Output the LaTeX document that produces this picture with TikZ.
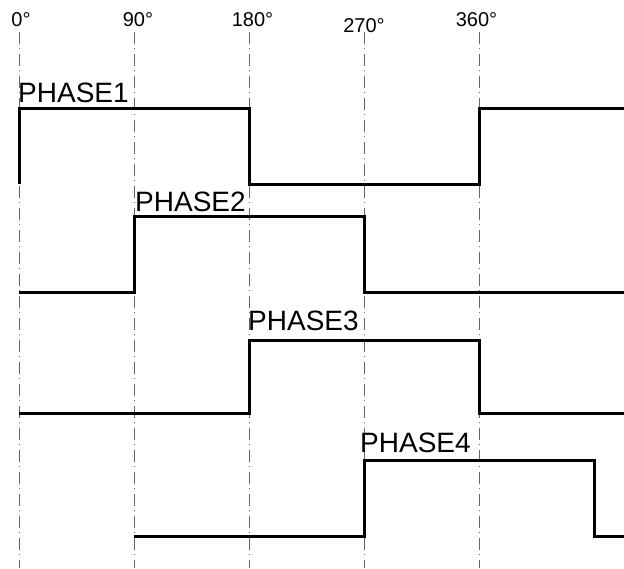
\documentclass[tikz,border=0pt]{standalone}
\usepackage{fontspec}
\setmainfont{Liberation Sans}
\usepackage{tikz}
\usetikzlibrary{positioning}

\tikzset{
  guide/.style={gray!80!black, line width=0.8pt, dash pattern=on 12pt off 4pt on 1pt off 5pt},
  wave/.style={black, line width=3pt},
  anglelabel/.style={inner sep=0pt, anchor=base, font=\fontsize{20}{20}\selectfont},
  phaselabel/.style={inner sep=0pt, anchor=south west, font=\fontsize{28}{28}\selectfont}
}

\begin{document}
\begin{tikzpicture}[x=1pt,y=-1pt]
    \useasboundingbox (0,0) rectangle (624,568);

    % Guides
    \foreach \x in {19,134,249,364,479}
        \draw[guide] (\x,32) -- (\x,568);

    % Angles
    \node[anglelabel] (a0)   at (21,26)    {0°};
    \node[anglelabel] (a90)  at (138,26)   {90°};
    \node[anglelabel] (a180) at (252.5,26) {180°};
    \node[anglelabel] (a270) at (364,32)   {270°};
    \node[anglelabel] (a360) at (476.5,26) {360°};

    % Phase 1
    \draw[wave] (19,184) -- (19,108) -- (249,108) -- (249,184) -- (479,184) -- (479,108) -- (624,108);
    \node[phaselabel] (ph1) at (18,103) {PHASE1};

    % Phase 2
    \draw[wave] (19,292) -- (134,292) -- (134,216) -- (364,216) -- (364,292) -- (624,292);
    \node[phaselabel] (ph2) at (135,212) {PHASE2};

    % Phase 3
    \draw[wave] (19,413) -- (249,413) -- (249,340) -- (479,340) -- (479,413) -- (624,413);
    \node[phaselabel] (ph3) at (248,331) {PHASE3};

    % Phase 4
    \draw[wave] (134,536) -- (364,536) -- (364,460) -- (594,460) -- (594,536) -- (624,536);
    \node[phaselabel] (ph4) at (360,453) {PHASE4};
\end{tikzpicture}
\end{document}
